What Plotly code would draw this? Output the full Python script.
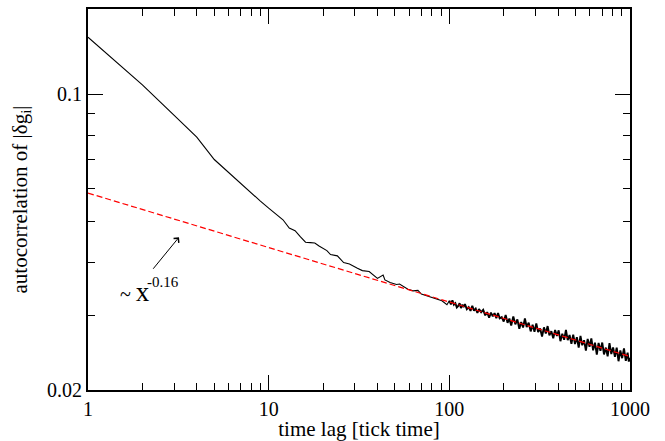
import math
import plotly.graph_objects as go

# ---- data ----
# autocorrelation, smooth part (lag 1 .. 100)
lag_head = [1, 2, 3, 4, 5, 6, 7, 8, 9, 10, 12, 13, 14, 15, 16, 17, 18, 19, 21, 22,
            24, 26, 28, 31, 33, 36, 38, 40, 43, 44, 47, 51, 53, 56, 59, 63, 67, 70,
            75, 80, 85, 91, 97, 100]
acf_head = [0.1364, 0.1052, 0.0891, 0.0792, 0.0701, 0.0653, 0.0615, 0.0583, 0.0559,
            0.0538, 0.0505, 0.0483, 0.0476, 0.0460, 0.0447, 0.0446, 0.0445, 0.0438,
            0.0427, 0.0418, 0.0415, 0.0400, 0.0397, 0.0388, 0.0383, 0.0381, 0.0373,
            0.0367, 0.0374, 0.0364, 0.0359, 0.0355, 0.0356, 0.0351, 0.0346, 0.0343,
            0.0344, 0.0337, 0.0334, 0.0331, 0.0328, 0.0325, 0.0318, 0.03252]

# autocorrelation, noisy tail (lag 100 .. 1000)
lag_tail = [100, 102, 104, 106, 108, 110, 112, 114, 116, 118, 120, 122,
            125, 128, 131, 134, 137, 140, 143, 146,
            150, 154, 158, 162, 166, 170, 174, 178, 182, 186, 190,
            195, 200, 205, 210, 215, 220,
            226, 232, 238, 244, 250, 256, 262, 268,
            275, 282, 289, 296, 303, 310,
            318, 326, 334, 342, 350, 358,
            367, 376, 385, 394, 403, 412,
            422, 432, 442, 452,
            463, 474, 485, 496,
            508, 520, 532, 544,
            557, 570, 583,
            597, 611, 625,
            640, 655, 670,
            686, 702, 718,
            735, 752,
            770, 788, 806,
            825, 844, 864, 884,
            905, 926, 948, 970,
            985, 1000]
acf_tail = [0.03252, 0.03188, 0.03256, 0.03182, 0.03208, 0.03134, 0.03161, 0.03208,
            0.03123, 0.03181, 0.03142, 0.03190,
            0.03105, 0.03139, 0.03076, 0.03163, 0.03079, 0.03113, 0.03041, 0.03106,
            0.03054, 0.03094, 0.03003, 0.03055, 0.02963, 0.03046, 0.02986, 0.03038,
            0.02958, 0.03042, 0.02953,
            0.02972, 0.02902, 0.03007, 0.02883, 0.02951, 0.02840,
            0.02984, 0.02859, 0.02938, 0.02790, 0.02895, 0.02810, 0.02951, 0.02818,
            0.02884, 0.02751, 0.02853, 0.02746, 0.02873, 0.02741,
            0.02795, 0.02675, 0.02812, 0.02719, 0.02832, 0.02692,
            0.02755, 0.02650, 0.02773, 0.02682, 0.02768, 0.02608,
            0.02717, 0.02628, 0.02772, 0.02624,
            0.02697, 0.02573, 0.02704, 0.02569,
            0.02665, 0.02520, 0.02683, 0.02551,
            0.02622, 0.02479, 0.02640,
            0.02531, 0.02648, 0.02483,
            0.02587, 0.02425, 0.02583,
            0.02475, 0.02589, 0.02427,
            0.02519, 0.02403,
            0.02580, 0.02432, 0.02522,
            0.02396, 0.02517, 0.02339, 0.02481,
            0.02378, 0.02509, 0.02343, 0.02451,
            0.02335, 0.02384]

# power-law guide line (straight in log-log), end points
fit_lag = [1, 1000]
fit_val = [0.0584, 0.0240]

# axis ticks
x_major = [1, 10, 100, 1000]
x_major_text = ["1", "10", "100", "1000"]
x_minor = [2, 3, 4, 5, 6, 7, 8, 9, 20, 30, 40, 50, 60, 70, 80, 90,
           200, 300, 400, 500, 600, 700, 800, 900]
y_major = [0.02, 0.1]
y_major_text = ["0.02", "0.1"]
y_minor = [0.03, 0.04, 0.05, 0.06, 0.07, 0.08, 0.09]
y_range = [0.02, 0.159]

FONT = "Liberation Serif, Times New Roman, serif"

fig = go.Figure()
fig.add_trace(go.Scatter(x=lag_head, y=acf_head, mode="lines",
                         line=dict(color="black", width=1.1), showlegend=False))
fig.add_trace(go.Scatter(x=lag_tail, y=acf_tail, mode="lines",
                         line=dict(color="black", width=1.9), showlegend=False))
fig.add_trace(go.Scatter(x=fit_lag, y=fit_val, mode="lines",
                         line=dict(color="#ff0000", width=1.2, dash="6px,3px"),
                         showlegend=False))

axis_common = dict(
    type="log", showgrid=False, zeroline=False,
    showline=True, linecolor="black", linewidth=2, mirror="ticks",
    ticks="inside", ticklen=15, tickwidth=1, tickcolor="black",
    tickfont=dict(family=FONT, size=20, color="black"),
    automargin=False,
)

fig.update_xaxes(
    **axis_common,
    range=[math.log10(x_major[0]), math.log10(x_major[-1])],
    tickmode="array", tickvals=x_major, ticktext=x_major_text,
    minor=dict(ticks="inside", ticklen=7, tickwidth=1, tickcolor="black",
               tickmode="array", tickvals=x_minor, showgrid=False),
    title=dict(text="time lag [tick time]", font=dict(family=FONT, size=21, color="black"),
               standoff=4),
)
fig.update_yaxes(
    **axis_common,
    range=[math.log10(y_range[0]), math.log10(y_range[1])],
    tickmode="array", tickvals=y_major, ticktext=y_major_text,
    minor=dict(ticks="inside", ticklen=7, tickwidth=1, tickcolor="black",
               tickmode="array", tickvals=y_minor, showgrid=False),
    title=dict(text="autocorrelation of |δg<sub>i</sub>|",
               font=dict(family=FONT, size=21, color="black"), standoff=14),
)

# arrow pointing at the guide line
fig.add_annotation(x=0.5036, y=-1.338, xref="x", yref="y", text="",
                   showarrow=True, ax=-27, ay=33, arrowhead=4, arrowsize=1.3,
                   arrowwidth=1, arrowcolor="black", standoff=0)
# label "~ x^-0.16"
fig.add_annotation(x=0.165, y=-1.4665, xref="x", yref="y",
                   text="~ <span style='font-size:27px'>x</span>",
                   showarrow=False, xanchor="left", yanchor="middle",
                   font=dict(family=FONT, size=20, color="black"))
fig.add_annotation(x=0.316, y=-1.444, xref="x", yref="y",
                   text="-0.16",
                   showarrow=False, xanchor="left", yanchor="middle",
                   font=dict(family=FONT, size=15, color="black"))

fig.update_layout(
    width=665, height=441,
    margin=dict(l=88, r=35, t=9, b=51),
    paper_bgcolor="white", plot_bgcolor="white",
    font=dict(family=FONT, color="black"),
)

fig.write_html("out.html", config={"displayModeBar": False},
               post_script="document.body.style.margin='0px';document.body.style.overflow='hidden';")
